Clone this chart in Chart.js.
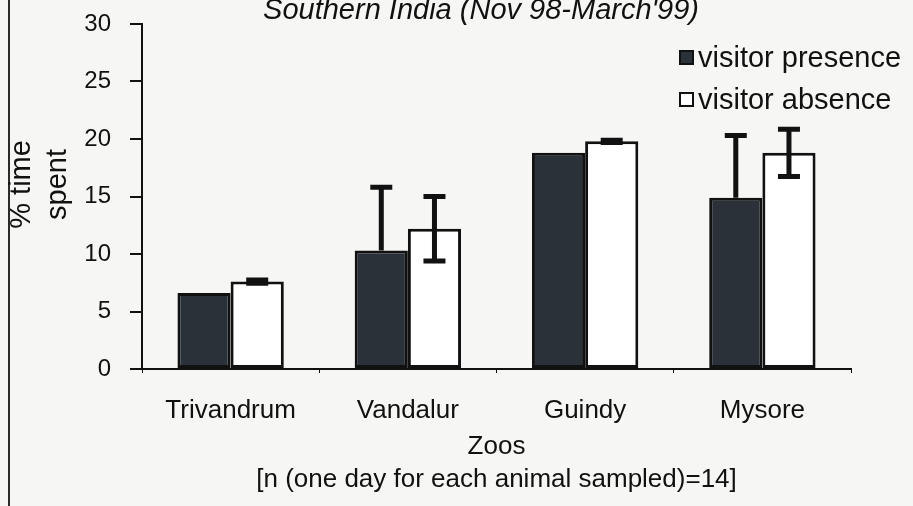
<!DOCTYPE html>
<html>
<head>
<meta charset="utf-8">
<script src="https://cdn.jsdelivr.net/npm/chart.js@4.4.0/dist/chart.umd.min.js"></script>
<style>
    html, body { margin: 0; padding: 0; background: #f6f6f4; }
    #wrap { position: relative; width: 913px; height: 506px; }
</style>
</head>
<body>
<div id="wrap"><canvas id="chart" width="913" height="506"></canvas></div>
<script>
// data
const zoos = ['Trivandrum', 'Vandalur', 'Guindy', 'Mysore'];
const presenceValues = [6.6, 10.3, 18.8, 14.9];
const presenceErrors = [0, 5.5, 0, 5.4];
const absenceValues = [7.6, 12.2, 19.8, 18.8];
const absenceErrors = [0.15, 2.8, 0.1, 2.05];
const yTicks = [0, 5, 10, 15, 20, 25, 30];

const FONT = 'Liberation Sans, Arial, sans-serif';
const INK = '#111111';

// paper background + left scan edge
const paper = {
    id: 'paper',
    beforeDraw(chart) {
        const ctx = chart.ctx;
        ctx.save();
        ctx.fillStyle = '#f6f6f4';
        ctx.fillRect(0, 0, chart.width, chart.height);
        ctx.strokeStyle = '#2a2a2a';
        ctx.lineWidth = 2;
        ctx.beginPath();
        ctx.moveTo(9, 0);
        ctx.lineTo(9, chart.height);
        ctx.stroke();
        ctx.restore();
    }
};

// title line, cut off at the top in the scan
const cutTitle = {
    id: 'cutTitle',
    afterDraw(chart) {
        const ctx = chart.ctx;
        ctx.save();
        ctx.font = 'italic 29px ' + FONT;
        ctx.fillStyle = INK;
        ctx.textAlign = 'right';
        ctx.textBaseline = 'alphabetic';
        ctx.fillText("Southern India (Nov 98-March'99)", 699, 19);
        ctx.restore();
    }
};

// error bars; the dark bars only show the upper half
const errorBars = {
    id: 'errorBars',
    afterDatasetsDraw(chart) {
        const ctx = chart.ctx;
        const y = chart.scales.y;
        chart.data.datasets.forEach((ds, i) => {
            const meta = chart.getDatasetMeta(i);
            meta.data.forEach((bar, j) => {
                const v = ds.data[j];
                const e = ds.errors[j];
                if (!e) return;
                const yTop = y.getPixelForValue(v + e);
                const yBot = ds.upOnly ? y.getPixelForValue(v) : y.getPixelForValue(v - e);
                ctx.save();
                ctx.strokeStyle = INK;
                ctx.lineWidth = 5;
                ctx.beginPath();
                ctx.moveTo(bar.x, yTop);
                ctx.lineTo(bar.x, yBot);
                ctx.moveTo(bar.x - 11, yTop);
                ctx.lineTo(bar.x + 11, yTop);
                if (!ds.upOnly) {
                    ctx.moveTo(bar.x - 11, yBot);
                    ctx.lineTo(bar.x + 11, yBot);
                }
                ctx.stroke();
                ctx.restore();
            });
        });
    }
};

// legend box in the upper right corner
const cornerLegend = {
    id: 'cornerLegend',
    afterDraw(chart) {
        const ctx = chart.ctx;
        ctx.save();
        ctx.font = '29px ' + FONT;
        ctx.textBaseline = 'alphabetic';
        ctx.textAlign = 'left';
        chart.data.datasets.forEach((ds, i) => {
            const top = 51 + i * 42;
            ctx.fillStyle = ds.backgroundColor;
            ctx.fillRect(680, top, 13, 13);
            ctx.strokeStyle = INK;
            ctx.lineWidth = 2;
            ctx.strokeRect(680, top, 13, 13);
            ctx.fillStyle = INK;
            ctx.fillText(ds.label, 698, top + 16);
        });
        ctx.restore();
    }
};

const ctx = document.getElementById('chart').getContext('2d');

new Chart(ctx, {
    type: 'bar',
    data: {
        labels: zoos,
        datasets: [
            {
                label: 'visitor presence',
                data: presenceValues,
                errors: presenceErrors,
                upOnly: true,
                backgroundColor: '#2b3139',
                borderColor: INK,
                borderWidth: 3,
                borderSkipped: false
            },
            {
                label: 'visitor absence',
                data: absenceValues,
                errors: absenceErrors,
                backgroundColor: '#ffffff',
                borderColor: INK,
                borderWidth: 3,
                borderSkipped: false
            }
        ]
    },
    options: {
        responsive: false,
        animation: false,
        devicePixelRatio: 1,
        categoryPercentage: 0.6,
        barPercentage: 1.0,
        layout: {
            padding: { left: 0, top: 24, right: 62, bottom: 0 }
        },
        plugins: {
            legend: { display: false },
            tooltip: { enabled: false }
        },
        scales: {
            x: {
                grid: {
                    drawOnChartArea: false,
                    color: INK,
                    tickLength: 4,
                    lineWidth: 1
                },
                border: { color: INK, width: 2 },
                ticks: {
                    color: INK,
                    padding: 22,
                    font: { family: FONT, size: 26 }
                },
                title: {
                    display: true,
                    text: ['Zoos', '[n (one day for each animal sampled)=14]'],
                    color: INK,
                    font: { family: FONT, size: 26, lineHeight: 1.27 },
                    padding: { top: 0, bottom: 10 }
                },
                afterFit(scale) {
                    scale.height = 137;
                    scale.paddingLeft = 0;
                    scale.paddingRight = 0;
                }
            },
            y: {
                min: 0,
                max: 30,
                afterBuildTicks(scale) {
                    scale.ticks = yTicks.map(v => ({ value: v }));
                },
                grid: {
                    drawOnChartArea: false,
                    color: INK,
                    tickLength: 12,
                    lineWidth: 2
                },
                border: { color: INK, width: 2 },
                ticks: {
                    color: INK,
                    padding: 19,
                    font: { family: FONT, size: 24 }
                },
                title: {
                    display: true,
                    // leading spaces nudge the rotated title up a little, as in the scan
                    text: ['\u00a0\u00a0\u00a0% time', '\u00a0\u00a0\u00a0spent'],
                    color: INK,
                    font: { family: FONT, size: 29, lineHeight: 1.25 },
                    padding: { top: 4, bottom: 0 }
                },
                afterFit(scale) {
                    scale.width = 142;
                    scale.paddingTop = 0;
                    scale.paddingBottom = 0;
                }
            }
        }
    },
    plugins: [paper, errorBars, cornerLegend, cutTitle]
});
</script>
</body>
</html>
